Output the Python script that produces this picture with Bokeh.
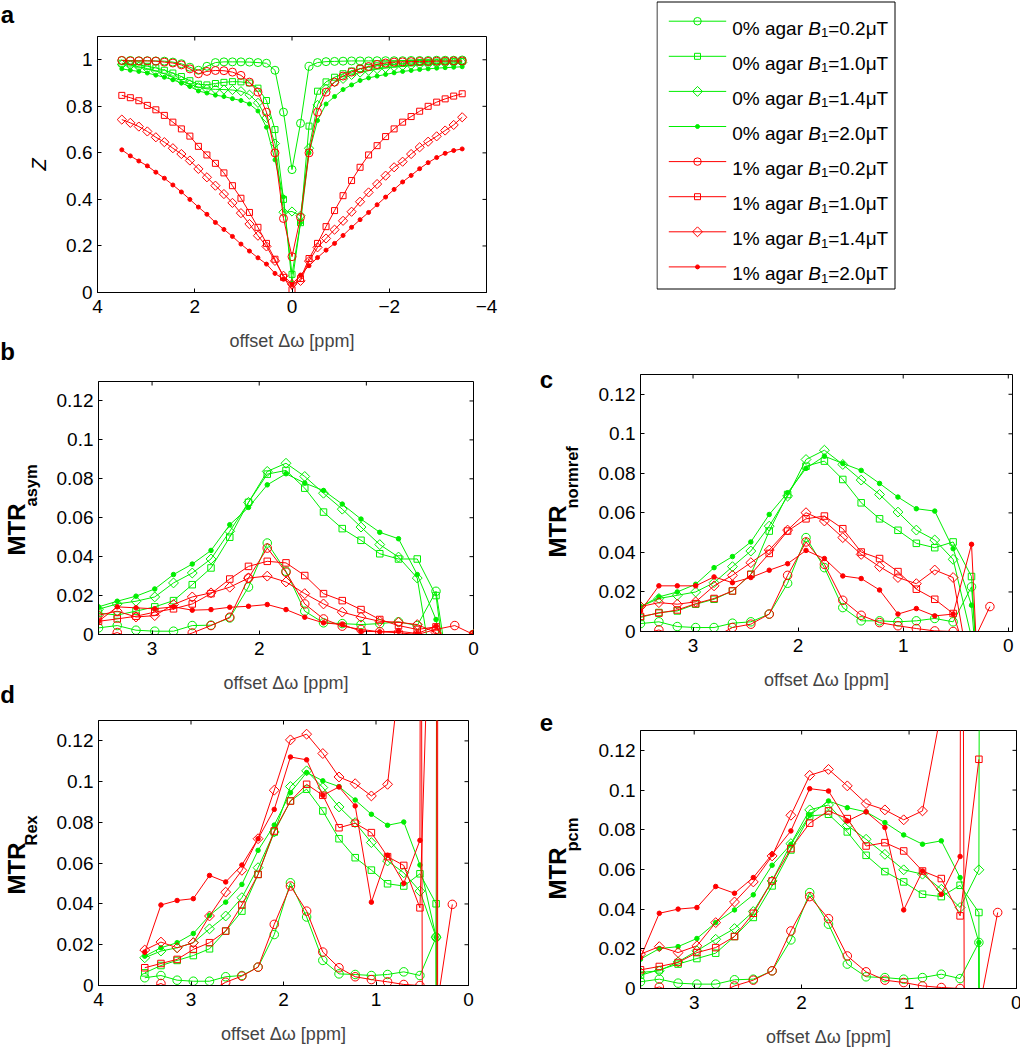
import math
from bokeh.plotting import figure
from bokeh.models import Range1d, FixedTicker
from bokeh.layouts import column, row
from bokeh.core.properties import value
from bokeh.embed import file_html
from bokeh.resources import INLINE

nan = float("nan")

# ---------------- data ----------------
offset_z = [3.5, 3.325, 3.15, 2.975, 2.8, 2.625, 2.45, 2.275, 2.1, 1.925, 1.75, 1.575, 1.4, 1.225, 1.05,
            0.875, 0.7, 0.525, 0.35, 0.175, 0.0,
            -0.175, -0.35, -0.525, -0.7, -0.875, -1.05, -1.225, -1.4, -1.575, -1.75, -1.925, -2.1,
            -2.275, -2.45, -2.625, -2.8, -2.975, -3.15, -3.325, -3.5]
offset_mtr = [3.5, 3.325, 3.15, 2.975, 2.8, 2.625, 2.45, 2.275, 2.1, 1.925, 1.75, 1.575, 1.4, 1.225, 1.05,
              0.875, 0.7, 0.525, 0.35, 0.175, 0.0]

series_agar = ["0%", "0%", "0%", "0%", "1%", "1%", "1%", "1%"]
series_b1 = ["0.2", "1.0", "1.4", "2.0", "0.2", "1.0", "1.4", "2.0"]

# panel a: Z spectra
z_a0_b02 = [0.997, 0.997, 0.996, 0.996, 0.995, 0.994, 0.99, 0.983, 0.968, 0.955, 0.972, 0.988, 0.991, 0.991, 0.991,
            0.99, 0.988, 0.985, 0.955, 0.775, 0.528,
            0.727, 0.972, 0.988, 0.992, 0.993, 0.994, 0.995, 0.995, 0.995, 0.996, 0.996, 0.996, 0.996, 0.997,
            0.997, 0.997, 0.998, 0.998, 0.998, 0.999]
z_a0_b10 = [0.985, 0.982, 0.978, 0.972, 0.965, 0.955, 0.943, 0.928, 0.91, 0.895, 0.892, 0.898, 0.903, 0.906, 0.905,
            0.9, 0.878, 0.825, 0.70, 0.40, 0.078,
            0.30, 0.715, 0.865, 0.905, 0.925, 0.94, 0.952, 0.962, 0.968, 0.974, 0.978, 0.981, 0.984, 0.986,
            0.988, 0.989, 0.99, 0.991, 0.992, 0.993]
z_a0_b14 = [0.98, 0.977, 0.97, 0.962, 0.952, 0.94, 0.925, 0.91, 0.895, 0.882, 0.875, 0.873, 0.872, 0.87, 0.865,
            0.85, 0.815, 0.75, 0.64, 0.345, 0.348,
            0.33, 0.62, 0.806, 0.875, 0.904, 0.918, 0.935, 0.945, 0.953, 0.96, 0.965, 0.97, 0.974, 0.977,
            0.98, 0.982, 0.984, 0.986, 0.987, 0.988]
z_a0_b20 = [0.961, 0.955, 0.95, 0.943, 0.934, 0.925, 0.914, 0.9, 0.885, 0.866, 0.857, 0.848, 0.842, 0.833, 0.825,
            0.81, 0.78, 0.71, 0.57, 0.41, 0.04,
            0.30, 0.60, 0.739, 0.81, 0.842, 0.872, 0.892, 0.911, 0.922, 0.93, 0.937, 0.944, 0.95, 0.954,
            0.958, 0.961, 0.964, 0.966, 0.968, 0.97]
z_a1_b02 = [0.997, 0.995, 0.995, 0.995, 0.994, 0.99, 0.986, 0.978, 0.961, 0.94, 0.95, 0.954, 0.953, 0.947, 0.933,
            0.904, 0.861, 0.775, 0.60, 0.318, 0.154,
            0.323, 0.60, 0.775, 0.861, 0.904, 0.93, 0.947, 0.961, 0.971, 0.98, 0.986, 0.99, 0.991, 0.992,
            0.993, 0.993, 0.994, 0.994, 0.995, 0.995]
z_a1_b10 = [0.847, 0.837, 0.824, 0.804, 0.785, 0.761, 0.732, 0.703, 0.672, 0.628, 0.591, 0.555, 0.514, 0.459, 0.405,
            0.344, 0.28, 0.211, 0.143, 0.065, 0.012,
            0.06, 0.146, 0.211, 0.283, 0.352, 0.416, 0.481, 0.538, 0.591, 0.631, 0.67, 0.703, 0.732, 0.756,
            0.779, 0.8, 0.818, 0.832, 0.844, 0.854]
z_a1_b14 = [0.743, 0.729, 0.713, 0.692, 0.667, 0.646, 0.62, 0.595, 0.567, 0.531, 0.495, 0.459, 0.423, 0.385, 0.341,
            0.294, 0.244, 0.198, 0.136, 0.072, 0.036,
            0.05, 0.135, 0.194, 0.232, 0.27, 0.308, 0.347, 0.39, 0.43, 0.466, 0.502, 0.538, 0.562, 0.595,
            0.624, 0.648, 0.671, 0.696, 0.72, 0.753]
z_a1_b20 = [0.613, 0.587, 0.565, 0.544, 0.517, 0.491, 0.462, 0.432, 0.4, 0.367, 0.336, 0.301, 0.271, 0.241, 0.208,
            0.178, 0.149, 0.122, 0.082, 0.057, 0.035,
            0.075, 0.115, 0.15, 0.182, 0.211, 0.245, 0.28, 0.313, 0.344, 0.377, 0.41, 0.443, 0.475, 0.503,
            0.532, 0.558, 0.58, 0.598, 0.61, 0.617]

# panel b: MTRasym
asym_a0_b02 = [0.0034, 0.0046, 0.0022, 0.0017, 0.0017, 0.0046, 0.0048, 0.0085, 0.0244, 0.047, 0.0325, 0.012, 0.006,
               0.0056, 0.0051, 0.0056, 0.0065, 0.0046, 0.0222, -0.04, 0.0]
asym_a0_b10 = [0.011, 0.01, 0.012, 0.0142, 0.0174, 0.0256, 0.0342, 0.05, 0.0679, 0.0824, 0.0843, 0.0752, 0.0629,
               0.0544, 0.0484, 0.0415, 0.0388, 0.0388, 0.02, -0.055, 0.0]
asym_a0_b14 = [0.013, 0.0157, 0.0171, 0.0193, 0.0265, 0.0316, 0.0388, 0.053, 0.0679, 0.0838, 0.088, 0.0812, 0.0726,
               0.0644, 0.0552, 0.0462, 0.0398, 0.029, -0.03, -0.05, 0.0]
asym_a0_b20 = [0.0142, 0.0171, 0.0197, 0.0234, 0.0308, 0.0362, 0.0432, 0.0564, 0.0653, 0.0769, 0.0826, 0.0778, 0.074,
               0.067, 0.0593, 0.0525, 0.0492, 0.0308, 0.0077, -0.04, 0.0]
asym_a1_b02 = [-0.002, 0.001, -0.003, -0.004, -0.003, 0.0008, 0.0046, 0.0089, 0.029, 0.0444, 0.032, 0.0157, 0.008,
               0.0043, 0.0026, 0.0014, 0.0009, 0.0, 0.0026, 0.0046, 0.0]
asym_a1_b10 = [0.0068, 0.008, 0.0094, 0.0115, 0.0132, 0.0157, 0.021, 0.0285, 0.035, 0.0376, 0.0368, 0.0303, 0.021,
               0.0174, 0.0128, 0.0077, 0.0046, 0.0026, 0.0039, -0.01, 0.0]
asym_a1_b14 = [0.0099, 0.012, 0.009, 0.0097, 0.0154, 0.0193, 0.0214, 0.0243, 0.029, 0.03, 0.027, 0.021, 0.0157,
               0.0115, 0.0089, 0.0068, 0.0063, 0.0051, 0.001, -0.01, 0.0]
asym_a1_b20 = [0.0068, 0.0142, 0.0137, 0.0132, 0.0142, 0.0125, 0.0128, 0.014, 0.0145, 0.0154, 0.0128, 0.0089, 0.006,
               0.0051, 0.0017, 0.0014, 0.0017, 0.0005, 0.0043, -0.01, 0.0]

# panel c: MTRnormref
nref_a0_b02 = [0.004, 0.0049, 0.0025, 0.002, 0.002, 0.0042, 0.0049, 0.0088, 0.0244, 0.0475, 0.0323, 0.0121, 0.0054,
               0.0054, 0.0049, 0.0054, 0.0066, 0.0049, 0.0226, -0.1, nan]
nref_a0_b10 = [0.0071, 0.0096, 0.0104, 0.0138, 0.0163, 0.0205, 0.0289, 0.0508, 0.0693, 0.0836, 0.0862, 0.0769, 0.0651,
               0.057, 0.0512, 0.0446, 0.0424, 0.0453, 0.0278, -0.12, nan]
nref_a0_b14 = [0.0126, 0.0167, 0.0183, 0.02, 0.0247, 0.0328, 0.0407, 0.0533, 0.0685, 0.087, 0.0917, 0.0845, 0.0766,
               0.0693, 0.0604, 0.0513, 0.0463, 0.0365, -0.003, -0.1, nan]
nref_a0_b20 = [0.0126, 0.0175, 0.02, 0.0239, 0.0323, 0.0379, 0.0453, 0.0592, 0.0702, 0.0825, 0.0887, 0.085, 0.0815,
               0.0749, 0.068, 0.0621, 0.0609, 0.0419, 0.0133, -0.1, nan]
nref_a1_b02 = [-0.002, 0.0008, -0.003, -0.004, -0.003, 0.002, 0.0037, 0.0088, 0.0284, 0.0453, 0.034, 0.0158, 0.0082,
               0.0045, 0.0029, 0.0015, 0.0003, 0.0, -0.007, 0.0126, nan]
nref_a1_b10 = [0.0076, 0.0093, 0.0109, 0.0141, 0.0167, 0.0205, 0.0289, 0.0395, 0.0508, 0.057, 0.0584, 0.052, 0.0402,
               0.0369, 0.0303, 0.0214, 0.0163, 0.0091, -0.02, nan, nan]
nref_a1_b14 = [0.0126, 0.0146, 0.0138, 0.015, 0.0231, 0.0284, 0.0348, 0.0412, 0.0513, 0.0601, 0.0559, 0.0475, 0.039,
               0.0328, 0.0273, 0.0242, 0.0311, 0.0273, -0.026, nan, nan]
nref_a1_b20 = [0.0104, 0.0231, 0.0231, 0.0231, 0.0276, 0.0247, 0.0273, 0.031, 0.0343, 0.041, 0.0369, 0.0281, 0.0268,
               0.021, 0.0088, 0.0116, 0.0079, 0.0088, 0.0441, -0.15, nan]

# panel d: MTRRex
rex_a0_b02 = [0.0038, 0.0049, 0.0026, 0.0021, 0.0021, 0.0043, 0.0049, 0.009, 0.025, 0.0504, 0.0336, 0.0123, 0.0057,
              0.0054, 0.0049, 0.0054, 0.0067, 0.0049, 0.0237, -5.0, nan]
rex_a0_b10 = [0.0062, 0.0098, 0.0123, 0.0147, 0.018, 0.0267, 0.0365, 0.0545, 0.0753, 0.0905, 0.0963, 0.0856, 0.072,
              0.0627, 0.0566, 0.0499, 0.0488, 0.0548, 0.0401, -5.0, nan]
rex_a0_b14 = [0.0136, 0.0169, 0.0185, 0.021, 0.0278, 0.0341, 0.0431, 0.0578, 0.0753, 0.0976, 0.1053, 0.0971, 0.0876,
              0.0799, 0.0701, 0.0611, 0.0553, 0.0463, 0.0237, 5.0, nan]
rex_a0_b20 = [0.0144, 0.0185, 0.021, 0.0255, 0.0344, 0.0409, 0.0496, 0.0663, 0.0787, 0.0946, 0.1045, 0.1004, 0.0976,
              0.091, 0.084, 0.0786, 0.0802, 0.0591, 0.0237, -5.0, nan]
rex_a1_b02 = [-0.002, 0.001, -0.003, -0.004, -0.003, 0.0016, 0.0046, 0.009, 0.03, 0.0488, 0.0365, 0.0164, 0.0087,
              0.0043, 0.0029, 0.0018, 0.0005, 0.0, -0.013, 0.0398, nan]
rex_a1_b10 = [0.0087, 0.0108, 0.0128, 0.0177, 0.021, 0.0267, 0.0395, 0.0545, 0.0758, 0.0905, 0.0987, 0.0933, 0.0774,
              0.0796, 0.075, 0.0632, 0.0589, 0.0381, 0.3, -5.0, nan]
rex_a1_b14 = [0.0174, 0.0213, 0.0185, 0.021, 0.0341, 0.0458, 0.0565, 0.072, 0.0958, 0.1205, 0.1233, 0.1138, 0.1023,
              0.099, 0.093, 0.0987, 0.17, 0.5, -3.0, 30.0, nan]
rex_a1_b20 = [0.0164, 0.0395, 0.0417, 0.0426, 0.054, 0.0508, 0.0591, 0.072, 0.0864, 0.1121, 0.1107, 0.0933, 0.0974,
              0.0881, 0.0409, 0.0639, 0.0501, 0.0712, 5.0, nan, nan]

# panel e: MTRpcm
pcm_a0_b02 = [0.0034, 0.0047, 0.0027, 0.0022, 0.0022, 0.0044, 0.0047, 0.0089, 0.0245, 0.0483, 0.0324, 0.0123, 0.0059,
              0.0055, 0.0047, 0.0055, 0.0072, 0.005, 0.0232, -5.0, nan]
pcm_a0_b10 = [0.0067, 0.0094, 0.0123, 0.0151, 0.0178, 0.0262, 0.0358, 0.0517, 0.0698, 0.0869, 0.0878, 0.0789, 0.0671,
              0.0589, 0.0537, 0.0475, 0.0463, 0.052, 0.0383, -5.0, nan]
pcm_a0_b14 = [0.0081, 0.0089, 0.0134, 0.019, 0.0248, 0.0302, 0.0388, 0.0542, 0.073, 0.09, 0.0925, 0.0822, 0.0752,
              0.0676, 0.0598, 0.0576, 0.05, 0.0408, 0.0598, 5.0, nan]
pcm_a0_b20 = [0.0148, 0.0201, 0.0211, 0.0252, 0.0332, 0.0396, 0.0472, 0.0621, 0.0727, 0.0873, 0.0945, 0.0911, 0.089,
              0.0836, 0.0774, 0.0727, 0.0744, 0.0559, 0.0232, -5.0, nan]
pcm_a1_b02 = [-0.002, 0.0008, -0.003, -0.004, -0.003, 0.0013, 0.0042, 0.0089, 0.029, 0.0463, 0.0352, 0.0164, 0.0084,
              0.0042, 0.003, 0.0013, 0.0005, 0.0, -0.011, 0.0383, nan]
pcm_a1_b10 = [0.0094, 0.0111, 0.0131, 0.0181, 0.0206, 0.0262, 0.0379, 0.0542, 0.0705, 0.0833, 0.0895, 0.0856, 0.0718,
              0.0735, 0.0693, 0.0592, 0.0554, 0.0366, 0.1155, nan, nan]
pcm_a1_b14 = [0.0173, 0.0211, 0.0181, 0.0215, 0.0332, 0.0436, 0.0537, 0.0668, 0.0873, 0.1074, 0.1104, 0.1021, 0.0932,
              0.09, 0.085, 0.0895, 0.14, 0.7, -2.5, nan, nan]
pcm_a1_b20 = [0.0156, 0.0379, 0.04, 0.0408, 0.0514, 0.048, 0.0559, 0.0676, 0.0794, 0.1007, 0.0995, 0.0844, 0.089,
              0.0811, 0.0396, 0.0592, 0.0475, 0.0665, 5.0, nan, nan]

z_ticks = [4, 2, 0, -2, -4]
z_tick_labels = ["4", "2", "0", "\u22122", "\u22124"]
z_yticks = [0, 0.2, 0.4, 0.6, 0.8, 1]
z_ytick_labels = ["0", "0.2", "0.4", "0.6", "0.8", "1"]
mtr_yticks = [0, 0.02, 0.04, 0.06, 0.08, 0.1, 0.12]
mtr_ytick_labels = ["0", "0.02", "0.04", "0.06", "0.08", "0.1", "0.12"]
mtr_xticks = [3, 2, 1, 0]
mtr_xtick_labels = ["3", "2", "1", "0"]
rex_xticks = [4, 3, 2, 1, 0]
rex_xtick_labels = ["4", "3", "2", "1", "0"]

# ---------------- styling ----------------
FONT = "Liberation Sans"
GREEN = "#00ee00"
RED = "#ff0000"
colors = [GREEN] * 4 + [RED] * 4
kinds = ["circle", "square", "diamond", "dot"] * 2
XLABEL = "offset \u0394\u03c9 [ppm]"
ROT = math.pi / 2
TICK_LEN = 4


def style_axis(ax, ticks, labels, standoff):
    ax.ticker = FixedTicker(ticks=ticks, minor_ticks=[])
    ax.major_label_overrides = {t: l for t, l in zip(ticks, labels)}
    ax.major_label_text_font = FONT
    ax.major_label_text_font_size = "19px"
    ax.major_label_text_color = "black"
    ax.major_label_standoff = standoff
    ax.major_tick_in = TICK_LEN
    ax.major_tick_out = 0
    ax.minor_tick_in = 0
    ax.minor_tick_out = 0
    ax.major_tick_line_color = "black"
    ax.axis_line_color = "black"


def add_marker(p, x, y, color, kind, msize):
    if kind == "circle":
        return p.scatter(x, y, marker="circle", size=msize["circle"], line_color=color, fill_color=None, line_width=1)
    if kind == "square":
        return p.scatter(x, y, marker="square", size=msize["square"], line_color=color, fill_color=None, line_width=1)
    if kind == "diamond":
        return p.scatter(x, y, marker="square", angle=math.pi / 4, size=msize["diamond"], line_color=color,
                         fill_color=None, line_width=1)
    return p.scatter(x, y, marker="circle", size=msize["dot"], line_color=color, fill_color=color, line_width=1)


def add_series(p, x, y, color, kind, msize):
    p.line(x, y, line_color=color, line_width=1)
    add_marker(p, x, y, color, kind, msize)


def mirror_ticks(p, fw, fh, xr, yr, xt, yt):
    # inner tick marks on the top and right edges of the box (as MATLAB draws them)
    xs, xe = xr
    ys, ye = yr
    dy = (ye - ys) * TICK_LEN / fh
    dx = (xs - xe) * TICK_LEN / fw
    p.segment(x0=list(xt), y0=[ye] * len(xt), x1=list(xt), y1=[ye - dy] * len(xt), line_color="black",
              line_width=1)
    p.segment(x0=[xe] * len(yt), y0=list(yt), x1=[xe + dx] * len(yt), y1=list(yt), line_color="black",
              line_width=1)


def make_panel(fw, fh, bl, br, bt, bb, xr, yr, xt, xtl, yt, ytl):
    p = figure(frame_width=fw, frame_height=fh, min_border_left=bl, min_border_right=br, min_border_top=bt,
               min_border_bottom=bb, x_range=Range1d(*xr), y_range=Range1d(*yr), output_backend="svg",
               toolbar_location=None)
    p.grid.visible = False
    p.outline_line_color = "black"
    p.outline_line_width = 1
    p.background_fill_color = "white"
    p.border_fill_color = "white"
    style_axis(p.xaxis[0], xt, xtl, 7)
    style_axis(p.yaxis[0], yt, ytl, 5)
    p.xaxis.axis_label = XLABEL
    p.xaxis.axis_label_text_font = FONT
    p.xaxis.axis_label_text_font_size = "18px"
    p.xaxis.axis_label_text_font_style = "normal"
    p.xaxis.axis_label_standoff = 15
    mirror_ticks(p, fw, fh, xr, yr, xt, yt)
    return p


def aux_fig(w, h):
    p = figure(frame_width=w, frame_height=h, min_border=0, x_range=Range1d(0, w), y_range=Range1d(0, h),
               output_backend="svg", toolbar_location=None, x_axis_location=None, y_axis_location=None,
               title=None)
    p.outline_line_color = None
    p.grid.visible = False
    p.background_fill_color = "white"
    p.border_fill_color = "white"
    return p


def aux_text(p, ox, oy, h, px, py, text, size, style="bold", angle=0.0, align="center", baseline="middle"):
    p.text(x=[px - ox], y=[h - (py - oy)], text=[text], angle=angle, text_font=value(FONT),
           text_font_size=value(size), text_font_style=value(style), text_align=value(align),
           text_baseline=value(baseline), text_color=value("black"))


msize_a = {"circle": 8, "square": 6, "diamond": 6.5, "dot": 4}
msize_m = {"circle": 8.5, "square": 6.5, "diamond": 7, "dot": 4.5}
msize_l = {"circle": 7.5, "square": 6, "diamond": 7, "dot": 4}

# ---------------- panel a ----------------
pa = make_panel(389, 256, 44, 170, 36, 61, (4, -4), (0, 1.1), z_ticks, z_tick_labels, z_yticks, z_ytick_labels)
z_series = [z_a0_b02, z_a0_b10, z_a0_b14, z_a0_b20, z_a1_b02, z_a1_b10, z_a1_b14, z_a1_b20]
for ys, c, k in zip(z_series, colors, kinds):
    add_series(pa, offset_z, ys, c, k, msize_a)

# ---------------- legend (drawn in its own strip, page coordinates) ----------------
LGX, LGY, LGW, LGH = 657, 1, 241, 353
LFS = 19.0  # legend font size in px
pl = aux_fig(LGW, LGH)


def lgy(py):
    return LGH - (py - LGY)


pl.quad(left=[657.5 - LGX], right=[895.5 - LGX], top=[lgy(2.5)], bottom=[lgy(289.5)], fill_color="white",
        line_color="black", line_width=1)
for i, (agar, b1, c, k) in enumerate(zip(series_agar, series_b1, colors, kinds)):
    yc_page = 21.7 + 35.1 * i
    yc = lgy(yc_page)
    pl.segment(x0=[669.3 - LGX], y0=[yc], x1=[726.7 - LGX], y1=[yc], line_color=c, line_width=1)
    add_marker(pl, [698.0 - LGX], [yc], c, k, msize_l)
    base = lgy(yc_page + 0.358 * LFS)
    x_txt = 732.7 - LGX
    prefix = agar + " agar "
    # advance widths (em) of Liberation Sans / Arial glyphs
    w_prefix = (0.556 + 0.889 + 0.278 + 0.556 + 0.556 + 0.556 + 0.333 + 0.278) * LFS
    w_b = 0.667 * LFS
    w_sub = 0.556 * 13
    pl.text(x=[x_txt], y=[base], text=[prefix], text_font=value(FONT), text_font_size=value("19px"),
            text_align=value("left"), text_baseline=value("alphabetic"), text_color=value("black"))
    pl.text(x=[x_txt + w_prefix], y=[base], text=["B"], text_font=value(FONT), text_font_size=value("19px"),
            text_font_style=value("italic"), text_align=value("left"), text_baseline=value("alphabetic"),
            text_color=value("black"))
    pl.text(x=[x_txt + w_prefix + w_b], y=[base - 4.5], text=["1"], text_font=value(FONT),
            text_font_size=value("13px"), text_align=value("left"), text_baseline=value("alphabetic"),
            text_color=value("black"))
    pl.text(x=[x_txt + w_prefix + w_b + w_sub], y=[base], text=["=" + b1 + "\u03bcT"], text_font=value(FONT),
            text_font_size=value("19px"), text_align=value("left"), text_baseline=value("alphabetic"),
            text_color=value("black"))

# ---------------- MTR panels ----------------
def mtr_panel(fw, fh, bl, br, bt, bb, xr, xt, xtl, series):
    p = make_panel(fw, fh, bl, br, bt, bb, xr, (0, 0.13), xt, xtl, mtr_yticks, mtr_ytick_labels)
    for ys, c, k in zip(series, colors, kinds):
        add_series(p, offset_mtr, ys, c, k, msize_m)
    return p


pb = mtr_panel(375, 253, 44, 38, 28, 61, (3.5, 0), mtr_xticks, mtr_xtick_labels,
               [asym_a0_b02, asym_a0_b10, asym_a0_b14, asym_a0_b20, asym_a1_b02, asym_a1_b10, asym_a1_b14,
                asym_a1_b20])
pd = mtr_panel(370, 265, 44, 43, 25, 63, (4, 0), rex_xticks, rex_xtick_labels,
               [rex_a0_b02, rex_a0_b10, rex_a0_b14, rex_a0_b20, rex_a1_b02, rex_a1_b10, rex_a1_b14,
                rex_a1_b20])
pc = mtr_panel(372, 257, 43, 10, 21, 61, (3.5, -0.04), mtr_xticks, mtr_xtick_labels,
               [nref_a0_b02, nref_a0_b10, nref_a0_b14, nref_a0_b20, nref_a1_b02, nref_a1_b10, nref_a1_b14,
                nref_a1_b20])
pe = mtr_panel(376, 258, 44, 5, 38, 60, (3.5, 0), mtr_xticks, mtr_xtick_labels,
               [pcm_a0_b02, pcm_a0_b10, pcm_a0_b14, pcm_a0_b20, pcm_a1_b02, pcm_a1_b10, pcm_a1_b14,
                pcm_a1_b20])

# ---------------- label strips (page coordinates) ----------------
LW, LH, LX, LY = 53, 1048, 1, 1
lab_left = aux_fig(LW, LH)
aux_text(lab_left, LX, LY, LH, 8, 15, "a", "24px")
aux_text(lab_left, LX, LY, LH, 39, 165, "Z", "20px", style="italic", angle=ROT)
aux_text(lab_left, LX, LY, LH, 8, 352, "b", "24px")
aux_text(lab_left, LX, LY, LH, 16.5, 556, "MTR", "24px", angle=ROT, align="left")
aux_text(lab_left, LX, LY, LH, 31.5, 507, "asym", "16.5px", angle=ROT, align="left")
aux_text(lab_left, LX, LY, LH, 8, 695, "d", "24px")
aux_text(lab_left, LX, LY, LH, 16.5, 895, "MTR", "24px", angle=ROT, align="left")
aux_text(lab_left, LX, LY, LH, 31.5, 846, "Rex", "16.5px", angle=ROT, align="left")

MW, MH, MX, MY = 84, 695, 511, 354
lab_mid = aux_fig(MW, MH)
aux_text(lab_mid, MX, MY, MH, 546, 380, "c", "24px")
aux_text(lab_mid, MX, MY, MH, 556.5, 558, "MTR", "24px", angle=ROT, align="left")
aux_text(lab_mid, MX, MY, MH, 571.5, 509, "normref", "16.5px", angle=ROT, align="left")
aux_text(lab_mid, MX, MY, MH, 546, 723, "e", "24px")
aux_text(lab_mid, MX, MY, MH, 556.5, 900, "MTR", "24px", angle=ROT, align="left")
aux_text(lab_mid, MX, MY, MH, 571.5, 852, "pcm", "16.5px", angle=ROT, align="left")

upper = row(pa, column(pl))
lower = row(column(pb, pd), lab_mid, column(pc, pe))
layout = row(lab_left, column(upper, lower))
open("out.html", "w").write(file_html(layout, INLINE))
